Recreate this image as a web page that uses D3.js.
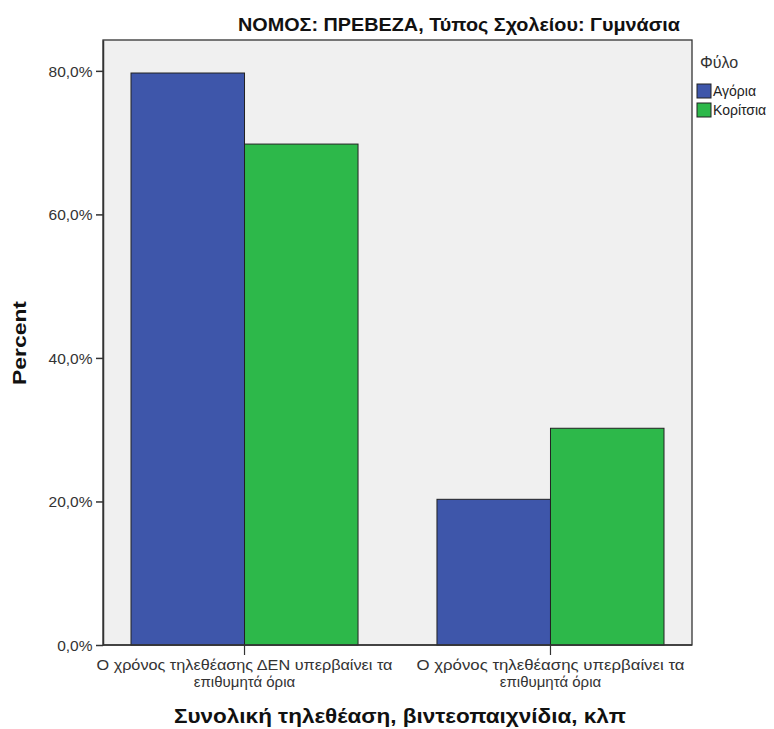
<!DOCTYPE html>
<html><head><meta charset="utf-8">
<script src="https://cdn.jsdelivr.net/npm/d3@7"></script>
<style>body{margin:0;background:#fff}</style>
</head><body>
<svg id="c" width="774" height="729"></svg>
<script>
const categories = [["Ο χρόνος τηλεθέασης ΔΕΝ υπερβαίνει τα","επιθυμητά όρια"],["Ο χρόνος τηλεθέασης υπερβαίνει τα","επιθυμητά όρια"]];
const seriesNames = ["Αγόρια","Κορίτσια"];
const boys = [79.7, 20.3];
const girls = [69.8, 30.2];
const yTicks = [0,20,40,60,80];
const colors = ["#3e56aa","#2db84a"];
const title = "ΝΟΜΟΣ: ΠΡΕΒΕΖΑ, Τύπος Σχολείου: Γυμνάσια";
const xTitle = "Συνολική τηλεθέαση, βιντεοπαιχνίδια, κλπ";
const yTitle = "Percent";
const legendTitle = "Φύλο";

const svg = d3.select("#c");
const L=103,R=692,T=40,B=645;
const font = "Arial, 'Liberation Sans', sans-serif";

svg.append("rect").attr("x",L).attr("y",T).attr("width",R-L).attr("height",B-T)
  .attr("fill","#f0f0f0").attr("stroke","#333").attr("stroke-width",1.3);

const y = d3.scaleLinear().domain([0,84.3]).range([B,T]);
const idx = categories.map((d,i)=>i);
const x0 = d3.scaleBand().domain(idx).range([131,664]).paddingInner(0.258).paddingOuter(0);
const x1 = d3.scaleBand().domain([0,1]).range([0,x0.bandwidth()]);
const data = idx.map(i=>[boys[i],girls[i]]);

const g = svg.append("g");
idx.forEach(i=>{
  data[i].forEach((v,s)=>{
    g.append("rect").attr("x",x0(i)+x1(s)).attr("y",y(v))
     .attr("width",x1.bandwidth()).attr("height",B-y(v))
     .attr("fill",colors[s]).attr("stroke","#222").attr("stroke-width",1);
  });
});

// y axis
const yAxis = d3.axisLeft(y).tickValues(yTicks).tickSizeInner(7).tickSizeOuter(0)
  .tickFormat(d=>d3.format(".1f")(d).replace(".",",")+"%");
const ya = svg.append("g").attr("transform",`translate(${L},0)`).call(yAxis);
ya.select(".domain").attr("stroke","#333").attr("stroke-width",1.5);
ya.selectAll(".tick line").attr("stroke","#333").attr("stroke-width",1.5);
ya.selectAll(".tick text").attr("font-family",font).attr("font-size",15.5).attr("fill","#333").attr("dx",-0.5).attr("dy","0.35em");

// x axis
svg.append("line").attr("x1",L).attr("x2",R).attr("y1",B).attr("y2",B).attr("stroke","#333").attr("stroke-width",1.5);
const catW = [296, 268];
idx.forEach(i=>{
  const cx = x0(i)+x0.bandwidth()/2;
  svg.append("line").attr("x1",cx).attr("x2",cx).attr("y1",B).attr("y2",B+10).attr("stroke","#333").attr("stroke-width",1.2);
  categories[i].forEach((ln,k)=>{
    const t = svg.append("text").attr("x",cx).attr("y",B+25+k*17).attr("text-anchor","middle")
      .attr("font-family",font).attr("font-size",15).attr("fill","#333").text(ln);
    if(k===0) t.attr("textLength",catW[i]).attr("lengthAdjust","spacingAndGlyphs");
  });
});

// titles
svg.append("text").attr("x",459).attr("y",31).attr("text-anchor","middle")
  .attr("font-family",font).attr("font-weight","bold").attr("font-size",18).attr("fill","#111")
  .attr("textLength",442).attr("lengthAdjust","spacingAndGlyphs").text(title);
svg.append("text").attr("x",400).attr("y",723).attr("text-anchor","middle")
  .attr("font-family",font).attr("font-weight","bold").attr("font-size",20).attr("fill","#111")
  .attr("textLength",452).attr("lengthAdjust","spacingAndGlyphs").text(xTitle);
svg.append("text").attr("transform","translate(26,343) rotate(-90)").attr("text-anchor","middle")
  .attr("font-family",font).attr("font-weight","bold").attr("font-size",19).attr("fill","#111")
  .attr("textLength",84).attr("lengthAdjust","spacingAndGlyphs").text(yTitle);

// legend
svg.append("text").attr("x",719).attr("y",68).attr("text-anchor","middle")
  .attr("font-family",font).attr("font-size",16).attr("fill","#333").text(legendTitle);
seriesNames.forEach((n,s)=>{
  const yy = 84 + s*19;
  svg.append("rect").attr("x",697).attr("y",yy).attr("width",14).attr("height",14)
    .attr("fill",colors[s]).attr("stroke","#222").attr("stroke-width",1);
  svg.append("text").attr("x",713).attr("y",yy+12).attr("font-family",font).attr("font-size",14)
    .attr("fill","#222").text(n);
});
</script>
</body></html>
